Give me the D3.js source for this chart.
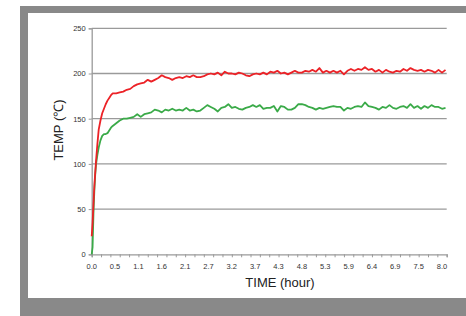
<!DOCTYPE html>
<html>
<head>
<meta charset="utf-8">
<script src="https://cdn.jsdelivr.net/npm/d3@7"></script>
<style>
  body { margin: 0; background: #fff; }
  svg { display: block; }
</style>
</head>
<body>
<svg width="466" height="316"></svg>
<script>
// sample times (hours): dense during warm-up, then every 0.08 h
var riseTimes = [0, 0.02, 0.04, 0.06, 0.08, 0.10, 0.13, 0.16, 0.20, 0.24, 0.28, 0.32, 0.36, 0.40, 0.44, 0.48]
var plateauStart = 0.56
var plateauStep = 0.08

var redRise = [20, 35, 55, 75, 90, 104, 122, 138, 148, 156, 161, 166, 170, 173, 176, 178]
var greenRise = [0, 8, 45, 70, 88, 100, 110, 118, 126, 131, 133, 133, 134, 137, 140, 142]

var redPlateau = [
  178, 179, 180, 182, 183, 186, 188, 189, 190, 193, 191, 193, 195, 198, 196, 195,
  193, 195, 196, 195, 197, 196, 198, 196, 196, 197, 199, 200, 199, 201, 198, 202,
  200, 200, 199, 201, 200, 198, 197, 199, 200, 199, 201, 199, 202, 201, 203, 200,
  201, 199, 201, 203, 201, 201, 203, 202, 204, 202, 206, 201, 203, 201, 203, 201,
  203, 199, 203, 205, 203, 205, 204, 207, 204, 205, 202, 204, 201, 204, 202, 201,
  203, 202, 205, 203, 206, 204, 203, 204, 202, 204, 203, 201, 204, 201, 204
]
var greenPlateau = [
  145, 148, 150, 150, 151, 152, 155, 152, 155, 156, 157, 160, 159, 157, 160, 159,
  161, 159, 160, 159, 162, 159, 160, 158, 159, 162, 165, 163, 161, 158, 162, 163,
  166, 162, 163, 161, 160, 162, 163, 165, 163, 165, 161, 162, 162, 164, 158, 164,
  163, 160, 160, 162, 166, 166, 165, 163, 162, 160, 162, 161, 162, 163, 164, 163,
  163, 159, 162, 161, 163, 164, 163, 168, 164, 163, 162, 160, 163, 162, 165, 162,
  161, 163, 164, 162, 166, 162, 164, 161, 164, 162, 165, 163, 163, 161, 162
]

var yTicks = [0, 50, 100, 150, 200, 250]
var xLabelStep = 8 / 15     // labels every 50 samples
var xTickStep = 8 / 37.5    // ticks every 20 samples
var xMax = 8.107

var svg = d3.select('svg')

// frame
svg.append('rect').attr('x', 20).attr('y', 6).attr('width', 446).attr('height', 310).attr('fill', '#898989')
svg.append('rect').attr('x', 28).attr('y', 13).attr('width', 438).attr('height', 285).attr('fill', '#fff')

var plotL = 91.7, plotR = 446.7, plotT = 28.3, plotB = 254.3

var x = d3.scaleLinear().domain([0, xMax]).range([plotL, plotR])
var y = d3.scaleLinear().domain([0, 250]).range([plotB, plotT])

var plateauTimes = redPlateau.map(function(d, i) { return plateauStart + i * plateauStep })
var times = riseTimes.concat(plateauTimes)
var red = redRise.concat(redPlateau)
var green = greenRise.concat(greenPlateau)

// grid lines
svg.append('g').selectAll('line').data(yTicks.slice(1)).enter().append('line')
  .attr('x1', plotL).attr('x2', plotR)
  .attr('y1', function(d) { return y(d) }).attr('y2', function(d) { return y(d) })
  .attr('stroke', '#9a9a9a').attr('stroke-width', 1.3)

// y axis
var yAxis = svg.append('g').attr('transform', 'translate(' + plotL + ',0)')
  .call(d3.axisLeft(y).tickValues(yTicks).tickSize(3).tickPadding(3))
yAxis.select('.domain').attr('stroke', '#9a9a9a').attr('stroke-width', 1.3)
yAxis.selectAll('.tick line').attr('stroke', '#9a9a9a')
yAxis.selectAll('text').attr('fill', '#333').style('font', '7.5px "Liberation Sans"')

// x axis: ticks and labels separately
var tickVals = d3.range(0, 39).map(function(i) { return i * xTickStep })
var xAxis = svg.append('g').attr('transform', 'translate(0,' + plotB + ')')
  .call(d3.axisBottom(x).tickValues(tickVals).tickSize(3).tickFormat(''))
xAxis.select('.domain').attr('stroke', '#9a9a9a').attr('stroke-width', 1.3)
xAxis.selectAll('.tick line').attr('stroke', '#9a9a9a')

var labelVals = d3.range(0, 16).map(function(i) { return i * xLabelStep })
svg.append('g').selectAll('text').data(labelVals).enter().append('text')
  .attr('x', function(d) { return x(d) })
  .attr('y', 269)
  .attr('text-anchor', 'middle')
  .attr('fill', '#333')
  .style('font', '7.5px "Liberation Sans"')
  .text(function(d) { return d3.format('.1f')(d) })

// lines
var line = function(vals) {
  return d3.line()
    .x(function(d, i) { return x(times[i]) })
    .y(function(d) { return y(d) })(vals)
}
svg.append('path').attr('d', line(green)).attr('fill', 'none')
  .attr('stroke', '#3aaa48').attr('stroke-width', 1.8).attr('stroke-linejoin', 'round')
svg.append('path').attr('d', line(red)).attr('fill', 'none')
  .attr('stroke', '#ec2227').attr('stroke-width', 1.8).attr('stroke-linejoin', 'round')

// titles
svg.append('text').attr('x', 280).attr('y', 287).attr('text-anchor', 'middle')
  .style('font', '13px "Liberation Sans"').attr('fill', '#222').text('TIME  (hour)')
svg.append('text').attr('transform', 'translate(63,130) rotate(-90)').attr('text-anchor', 'middle')
  .style('font', '13px "Liberation Sans"').attr('fill', '#222').text('TEMP (℃)')
</script>
</body>
</html>
